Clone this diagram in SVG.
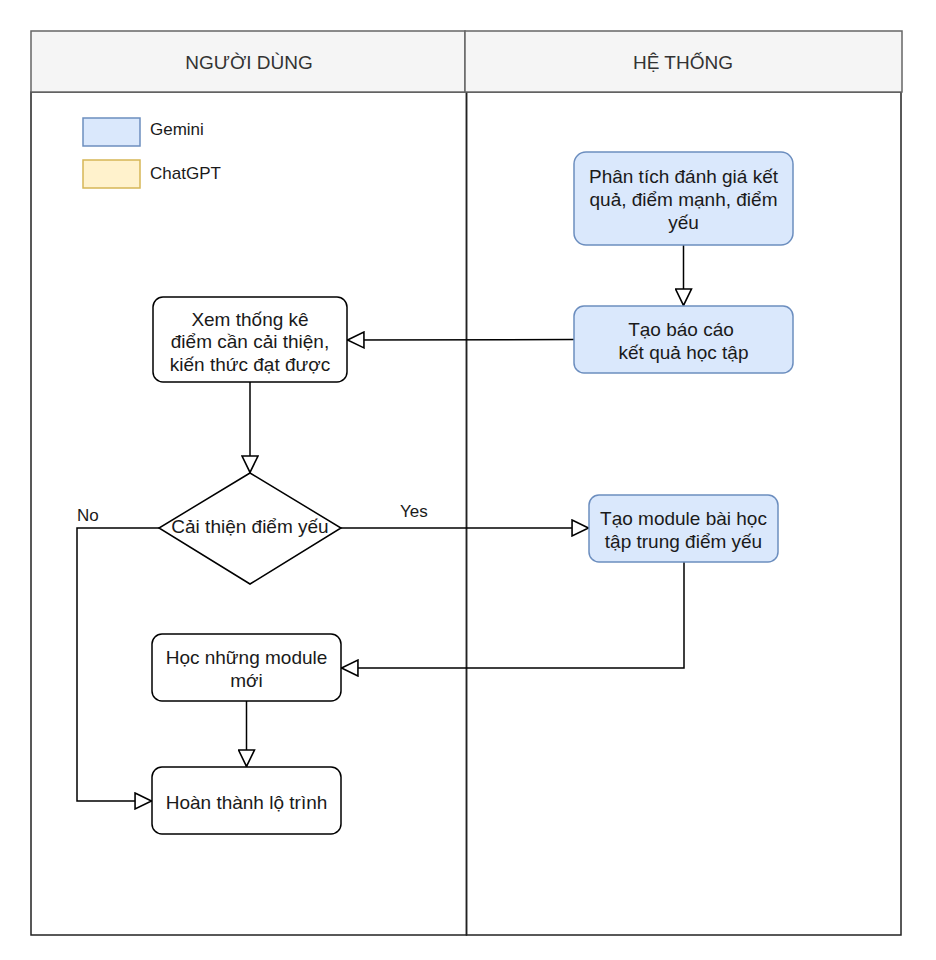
<svg xmlns="http://www.w3.org/2000/svg" width="936" height="960" viewBox="0 0 936 960">
<style>
.hdr{fill:#f5f5f5;stroke:#666666;stroke-width:1.5}
.lane{fill:none;stroke:#222222;stroke-width:1.5}
.htxt{font-family:"Liberation Sans",Arial,sans-serif;font-size:19px;fill:#333333;text-anchor:middle;dominant-baseline:central}
.txt{font-family:"Liberation Sans",Arial,sans-serif;font-size:19px;fill:#1a1a1a;text-anchor:middle;dominant-baseline:central}
.ltxt{font-family:"Liberation Sans",Arial,sans-serif;font-size:17px;fill:#1a1a1a;dominant-baseline:central}
.blue{fill:#dae8fc;stroke:#6c8ebf;stroke-width:1.5}
.yellow{fill:#fff2cc;stroke:#d6b656;stroke-width:1.5}
.plain{fill:#ffffff;stroke:#000000;stroke-width:1.5}
.edge{fill:none;stroke:#000000;stroke-width:1.5;marker-end:url(#arr)}
</style>
<defs>
<marker id="arr" markerUnits="userSpaceOnUse" markerWidth="20" markerHeight="18" refX="16" refY="7.5" orient="auto" viewBox="-1 -1 18 17">
<path d="M0,0 L15.5,7.5 L0,15 Z" fill="#ffffff" stroke="#000000" stroke-width="1.5"/>
</marker>
</defs>
<rect width="936" height="960" fill="#ffffff"/>
<g id="lanes">
<rect class="lane" x="31" y="92" width="435.5" height="843"/>
<rect class="lane" x="466.5" y="92" width="434.5" height="843"/>
<rect class="hdr" x="31" y="31" width="434" height="61"/>
<rect class="hdr" x="465" y="31" width="437" height="61"/>
<text class="htxt" x="249" y="62">NGƯỜI DÙNG</text>
<text class="htxt" x="683" y="62">HỆ THỐNG</text>
</g>
<g id="legend">
<rect class="blue" x="83" y="118" width="57" height="28"/>
<text class="ltxt" x="150" y="129">Gemini</text>
<rect class="yellow" x="83" y="160" width="57" height="28"/>
<text class="ltxt" x="150" y="173">ChatGPT</text>
</g>
<g id="connectors">
<path class="edge" d="M683.5,245 L683.5,306"/>
<path class="edge" d="M574,339.5 L347,340"/>
<path class="edge" d="M250,382 L250,473"/>
<path class="edge" d="M341,528 L589,528"/>
<path class="edge" d="M159,528 L77,528 L77,801 L152,801"/>
<path class="edge" d="M684,562 L684,668 L341,668"/>
<path class="edge" d="M246.5,701 L246.5,767"/>
<text class="ltxt" x="77" y="515">No</text>
<text class="ltxt" x="400" y="511">Yes</text>
</g>
<g id="n_phantich">
<rect class="blue" x="574" y="152" width="219" height="93" rx="12"/>
<text class="txt" x="683.5" y="176">Phân tích đánh giá kết</text>
<text class="txt" x="683.5" y="199">quả, điểm mạnh, điểm</text>
<text class="txt" x="683.5" y="222">yếu</text>
</g>
<g id="n_baocao">
<rect class="blue" x="574" y="306" width="219" height="67" rx="10"/>
<text class="txt" x="681" y="329">Tạo báo cáo</text>
<text class="txt" x="683.5" y="352">kết quả học tập</text>
</g>
<g id="n_xem">
<rect class="plain" x="153" y="297" width="194" height="85" rx="10"/>
<text class="txt" x="250" y="319">Xem thống kê</text>
<text class="txt" x="250" y="341">điểm cần cải thiện,</text>
<text class="txt" x="250" y="364">kiến thức đạt được</text>
</g>
<g id="n_decision">
<path class="plain" d="M250,473 L341,528 L250,584 L159,528 Z"/>
<text class="txt" x="250" y="526">Cải thiện điểm yếu</text>
</g>
<g id="n_module">
<rect class="blue" x="589" y="495" width="189" height="67" rx="10"/>
<text class="txt" x="683.5" y="518">Tạo module bài học</text>
<text class="txt" x="683.5" y="541">tập trung điểm yếu</text>
</g>
<g id="n_hoc">
<rect class="plain" x="152" y="634" width="189" height="67" rx="10"/>
<text class="txt" x="246.5" y="657">Học những module</text>
<text class="txt" x="246.5" y="680">mới</text>
</g>
<g id="n_hoanthanh">
<rect class="plain" x="152" y="767" width="189" height="67" rx="10"/>
<text class="txt" x="246.5" y="802">Hoàn thành lộ trình</text>
</g>
</svg>
